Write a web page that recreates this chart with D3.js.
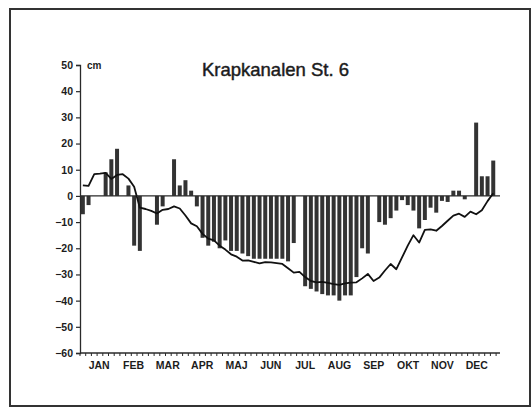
<!DOCTYPE html>
<html>
<head>
<meta charset="utf-8">
<script src="https://cdn.jsdelivr.net/npm/d3@7"></script>
<style>
  body { margin: 0; background: #fff; }
  svg { display: block; }
  text { font-family: "Liberation Sans", Arial, sans-serif; fill: #1c1c1c; }
</style>
</head>
<body>
<script>
const w = 532;
const h = 408;

const title = "Krapkanalen St. 6";
const unit = "cm";
const months = ["JAN", "FEB", "MAR", "APR", "MAJ", "JUN", "JUL", "AUG", "SEP", "OKT", "NOV", "DEC"];
const yTicks = [50, 40, 30, 20, 10, 0, -10, -20, -30, -40, -50, -60];

// 5-day periods through the year (73), null = no bar drawn
const periods = d3.range(1, 74);
const barValues = [
  -7, -3.5, null, null, 9, 14, 18, null, 4, -19,
  -21, null, null, -11, -4, null, 14, 4, 6, 2,
  -4, -16, -19, -17.5, -20, -17, -21, -21, -22, -23,
  -24, -24, -24, -24, -24, -24, -25, -18, null, -34.5,
  -35.5, -36.5, -37.5, -38, -38, -40, -38, -38, -31, -20,
  -22, null, -10, -11, -8.5, -5.6, -1.6, -3.5, -5.6, -12.4,
  -9.2, -4.5, -6.4, -1.9, -2.3, 2, 2, -1.3, null, 28,
  7.5, 7.5, 13.5
];
const lineValues = [
  4, 3.8, 8.3, 8.5, 8.8, 6.5, 8, 8.3, 6.6, 3.5,
  -4.5, -5, -5.7, -6.7, -5.3, -5, -4, -4.8, -7.5, -10.5,
  -11.6, -14.5, -16.3, -17, -19, -20.5, -22.3, -23.2, -24.7, -24.6,
  -25.2, -25.8, -25.3, -25.4, -25.7, -26, -27.6, -29.3, -29, -31,
  -32.5, -33, -32.8, -33.2, -33.7, -34, -33.4, -33.1, -33, -31.5,
  -29.8, -32.5, -31.2, -28.5, -26, -28, -23.5, -19, -15, -17.8,
  -13, -12.8, -13.3, -11.5, -9.5, -7.5, -6.8, -8, -6, -7,
  -5.5, -2, 1
];

const plotLeft = 80, plotRight = 500, plotTop = 65, plotBottom = 353;

const svg = d3.select("body")
              .append("svg")
              .attr("width", w)
              .attr("height", h)

// outer frame
svg.append("rect")
   .attr("x", 10)
   .attr("y", 9)
   .attr("width", 520)
   .attr("height", 397)
   .attr("fill", "none")
   .attr("stroke", "#333")
   .attr("stroke-width", 2)

const xScale = d3.scaleBand()
                 .domain(periods)
                 .range([plotLeft, 496.1])
                 .paddingInner(0.3)
                 .paddingOuter(0.15)

const tickScale = d3.scaleLinear()   // period boundaries for the small ticks
                    .domain([0, periods.length])
                    .range([plotLeft, 496.1])

const monthScale = d3.scaleBand()
                     .domain(months)
                     .range([82, 494])

const yScale = d3.scaleLinear()
                 .domain([-60, 50])
                 .range([plotBottom, plotTop])

const bars = periods.map((p, i) => ({period: p, value: barValues[i]})).filter(d => d.value !== null);

svg.selectAll(".bar")
   .data(bars)
   .enter()
   .append("rect")
   .attr("class", "bar")
   .attr("x", d => xScale(d.period))
   .attr("y", d => yScale(Math.max(0, d.value)))
   .attr("width", xScale.bandwidth())
   .attr("height", d => Math.abs(yScale(d.value) - yScale(0)))
   .attr("fill", "#333")

// zero line
svg.append("line")
   .attr("x1", plotLeft)
   .attr("x2", plotRight)
   .attr("y1", yScale(0))
   .attr("y2", yScale(0))
   .attr("stroke", "#2a2a2a")
   .attr("stroke-width", 1.2)

const line = d3.line()
               .x((d, i) => xScale(periods[i]) + xScale.bandwidth() / 2)
               .y(d => yScale(d))

svg.append("path")
   .datum(lineValues)
   .attr("d", line)
   .attr("fill", "none")
   .attr("stroke", "#111")
   .attr("stroke-width", 1.8)
   .attr("stroke-linejoin", "round")

// y axis
const yAxis = d3.axisLeft(yScale)
                .tickValues(yTicks)
                .tickSize(4)
                .tickPadding(3)

const gy = svg.append("g")
              .attr("transform", "translate(" + plotLeft + ",0)")
              .call(yAxis)
gy.select(".domain").attr("stroke", "#2a2a2a").attr("stroke-width", 1.3)
gy.selectAll(".tick line").attr("stroke", "#2a2a2a").attr("stroke-width", 1.2)
gy.selectAll(".tick text")
  .style("font-family", '"Liberation Sans", Arial, sans-serif')
  .style("font-size", "10.5px")
  .style("font-weight", "bold")
  .attr("fill", "#1c1c1c")

// x axis line + small ticks at each period boundary
svg.append("line")
   .attr("x1", plotLeft)
   .attr("x2", plotRight)
   .attr("y1", plotBottom)
   .attr("y2", plotBottom)
   .attr("stroke", "#2a2a2a")
   .attr("stroke-width", 1.3)

svg.selectAll(".xtick")
   .data(d3.range(periods.length + 1))
   .enter()
   .append("line")
   .attr("class", "xtick")
   .attr("x1", d => tickScale(d))
   .attr("x2", d => tickScale(d))
   .attr("y1", plotBottom)
   .attr("y2", plotBottom + 3)
   .attr("stroke", "#2a2a2a")
   .attr("stroke-width", 1)

svg.selectAll(".month")
   .data(months)
   .enter()
   .append("text")
   .attr("class", "month")
   .attr("x", d => monthScale(d) + monthScale.bandwidth() / 2)
   .attr("y", 369)
   .attr("text-anchor", "middle")
   .style("font-size", "10.5px")
   .style("font-weight", "bold")
   .text(d => d)

svg.append("text")
   .attr("x", 87)
   .attr("y", 68.5)
   .style("font-size", "10px")
   .style("font-weight", "bold")
   .text(unit)

svg.append("text")
   .attr("x", 275.5)
   .attr("y", 76)
   .attr("text-anchor", "middle")
   .style("font-size", "18.5px")
   .attr("stroke", "#1c1c1c")
   .attr("stroke-width", 0.45)
   .text(title)
</script>
</body>
</html>
